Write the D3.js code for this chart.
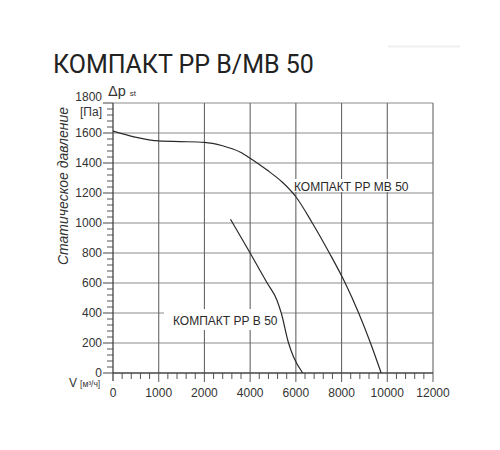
<!DOCTYPE html>
<html>
<head>
<meta charset="utf-8">
<script src="https://cdn.jsdelivr.net/npm/d3@7"></script>
<style>
  html, body { margin: 0; padding: 0; background: #fff; }
  svg { display: block; }
  text { font-family: "Liberation Sans", Arial, sans-serif; fill: #2a2a2a; }
</style>
</head>
<body>
<svg id="chart" width="500" height="450"></svg>
<script>
// ---- data ----
const title = "КОМПАКТ РР В/МВ 50";
const xTicks = [0, 1000, 2000, 4000, 6000, 8000, 10000, 12000];
const yTicks = [0, 200, 400, 600, 800, 1000, 1200, 1400, 1600, 1800];
const seriesNames = ["КОМПАКТ РР МВ 50", "КОМПАКТ РР В 50"];
const mb50Flow = [0, 480, 1000, 1470, 2000, 2790, 3575, 4000, 4740, 5400, 6000, 6720, 7466, 8158, 8748, 9265, 9733];
const mb50Pressure = [1612, 1573, 1547, 1543, 1538, 1515, 1472, 1432, 1353, 1273, 1175, 1000, 800, 600, 400, 200, 0];
const b50Flow = [3140, 4000, 4744, 5169, 5361, 5680, 5900, 6300];
const b50Pressure = [1025, 800, 600, 487, 400, 200, 107, 0];

// ---- layout ----
const svg = d3.select("#chart");
const L = 113, R = 433, T = 103, B = 373;

// piecewise-linear x scale: tick labels are evenly spaced
const x = d3.scaleLinear()
  .domain(xTicks)
  .range(xTicks.map((d, i) => L + i * (R - L) / (xTicks.length - 1)));
const y = d3.scaleLinear().domain([0, 1800]).range([B, T]);

// faint decoration bar top-right
svg.append("rect").attr("x", 388).attr("y", 45.5).attr("width", 72).attr("height", 2).attr("fill", "#efefef");

// title
svg.append("text").attr("x", 53).attr("y", 73)
  .style("font-family", "Roboto, 'Liberation Sans', sans-serif")
  .style("font-size", "25px").style("fill", "#222")
  .text(title);

// grid
const g = svg.append("g");
g.selectAll("line.hg").data(yTicks.filter(d => d > 0)).join("line")
  .attr("x1", L).attr("x2", R)
  .attr("y1", d => y(d)).attr("y2", d => y(d))
  .attr("stroke", "#8c8c8c").attr("stroke-width", 1.2);
g.selectAll("line.vg").data(xTicks.filter(d => d > 0)).join("line")
  .attr("x1", d => x(d)).attr("x2", d => x(d))
  .attr("y1", T).attr("y2", B + 9)
  .attr("stroke", "#666").attr("stroke-width", 1.1);

// minor ticks x (below axis)
const xMinor = [];
for (let i = 0; i < xTicks.length - 1; i++) {
  const a = xTicks[i], b = xTicks[i + 1];
  for (let k = 1; k < 5; k++) xMinor.push(a + (b - a) * k / 5);
}
g.selectAll("line.xm").data(xMinor).join("line")
  .attr("x1", d => x(d)).attr("x2", d => x(d))
  .attr("y1", B).attr("y2", B + 6)
  .attr("stroke", "#555").attr("stroke-width", 1);

// minor ticks y (left of axis)
const yMinor = [];
for (let i = 0; i < yTicks.length - 1; i++) {
  const a = yTicks[i], b = yTicks[i + 1];
  for (let k = 1; k < 5; k++) yMinor.push(a + (b - a) * k / 5);
}
g.selectAll("line.ym").data(yMinor).join("line")
  .attr("x1", L - 6).attr("x2", L)
  .attr("y1", d => y(d)).attr("y2", d => y(d))
  .attr("stroke", "#555").attr("stroke-width", 1);
g.selectAll("line.yM").data(yTicks).join("line")
  .attr("x1", L - 10).attr("x2", L)
  .attr("y1", d => y(d)).attr("y2", d => y(d))
  .attr("stroke", "#555").attr("stroke-width", 1.1);

// axes lines
g.append("line").attr("x1", L).attr("x2", L).attr("y1", T).attr("y2", B + 8)
  .attr("stroke", "#444").attr("stroke-width", 1.3);
g.append("line").attr("x1", L).attr("x2", R).attr("y1", B).attr("y2", B)
  .attr("stroke", "#444").attr("stroke-width", 1.3);

// tick labels (top label sits above its line)
svg.selectAll("text.yl").data(yTicks).join("text")
  .attr("x", 102).attr("y", d => d === 1800 ? y(d) - 2 : y(d) + 4.3)
  .attr("text-anchor", "end").style("font-size", "12px").style("fill", "#333")
  .text(d => d);
svg.selectAll("text.xl").data(xTicks).join("text")
  .attr("x", d => x(d)).attr("y", 397)
  .attr("text-anchor", "middle").style("font-size", "12px").style("fill", "#333")
  .text(d => d);

// unit labels
svg.append("text").attr("x", 102).attr("y", 115.5).attr("text-anchor", "end")
  .style("font-size", "12px").style("fill", "#333").text("[Па]");
const dp = svg.append("text").attr("x", 108).attr("y", 96).style("font-size", "14.5px").style("fill", "#333");
dp.append("tspan").text("Δp");
dp.append("tspan").attr("dx", 4).style("font-size", "8px").text("st");

const vl = svg.append("text").attr("x", 69).attr("y", 387).style("font-size", "12px").style("fill", "#333");
vl.append("tspan").text("V");
vl.append("tspan").attr("dx", 3).style("font-size", "8.5px").text("[м³/ч]");

svg.append("text")
  .attr("transform", "translate(68,186) rotate(-90)")
  .attr("text-anchor", "middle")
  .style("font-size", "14px").style("font-style", "italic").style("fill", "#333")
  .text("Статическое давление");

// series labels with white backing
svg.append("rect").attr("x", 164).attr("y", 309).attr("width", 118).attr("height", 21).attr("fill", "#fff");
svg.append("text").attr("x", 173).attr("y", 325).style("font-size", "12px").style("fill", "#2a2a2a").text(seriesNames[1]);
svg.append("rect").attr("x", 291).attr("y", 179).attr("width", 124).attr("height", 13).attr("fill", "#fff");
svg.append("text").attr("x", 294).attr("y", 191).style("font-size", "12px").style("fill", "#2a2a2a").text(seriesNames[0]);

// curves
const line = d3.line().x(d => x(d[0])).y(d => y(d[1])).curve(d3.curveMonotoneX);
svg.append("path").datum(d3.zip(mb50Flow, mb50Pressure)).attr("d", line)
  .attr("fill", "none").attr("stroke", "#2a2a2a").attr("stroke-width", 1.2);
svg.append("path").datum(d3.zip(b50Flow, b50Pressure)).attr("d", line)
  .attr("fill", "none").attr("stroke", "#2a2a2a").attr("stroke-width", 1.2);
</script>
</body>
</html>
